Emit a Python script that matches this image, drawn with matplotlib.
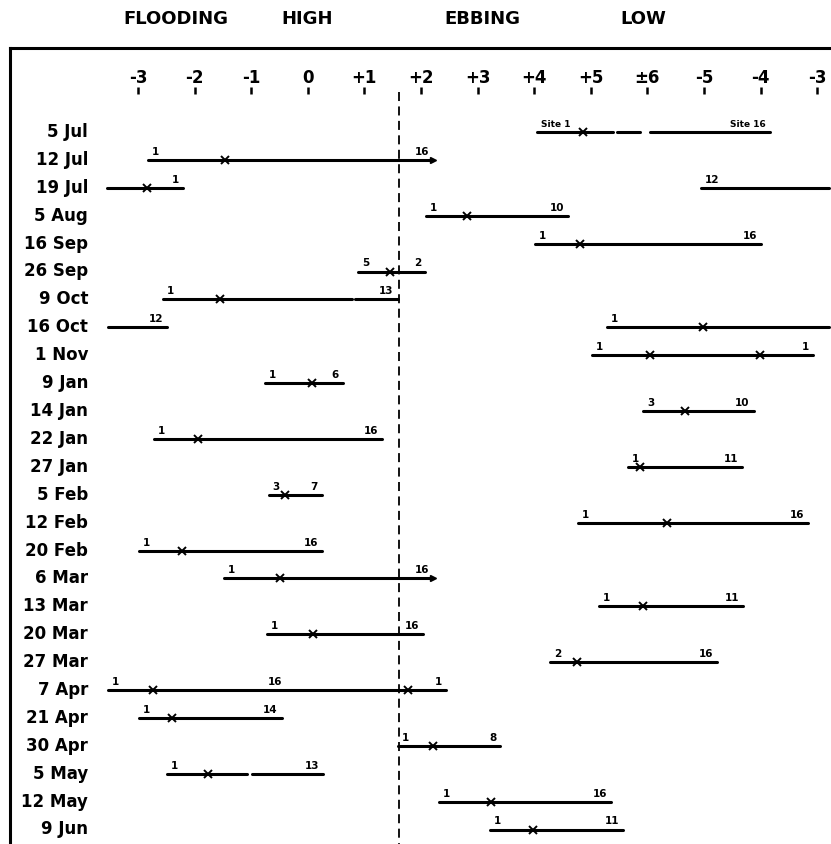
import numpy as np
import matplotlib.pyplot as plt

# rows of the chart (survey dates)
dates = ['5 Jul', '12 Jul', '19 Jul', '5 Aug', '16 Sep', '26 Sep', '9 Oct', '16 Oct',
         '1 Nov', '9 Jan', '14 Jan', '22 Jan', '27 Jan', '5 Feb', '12 Feb', '20 Feb',
         '6 Mar', '13 Mar', '20 Mar', '27 Mar', '7 Apr', '21 Apr', '30 Apr', '5 May',
         '12 May', '9 Jun']

# tide hour scale (0 = "-3" flooding ... 12 = "-3" next cycle)
hour_labels = ['-3', '-2', '-1', '0', '+1', '+2', '+3', '+4', '+5', '\u00b16', '-5', '-4', '-3']
phase_names = ['FLOODING', 'HIGH', 'EBBING', 'LOW']
ref_hour = 4.61  # dashed reference line

# sampling runs: one entry per line segment
seg_date = ['5 Jul', '5 Jul', '5 Jul', '12 Jul', '19 Jul', '19 Jul', '5 Aug', '16 Sep',
            '26 Sep', '9 Oct', '9 Oct', '16 Oct', '16 Oct', '1 Nov', '9 Jan', '14 Jan',
            '22 Jan', '27 Jan', '5 Feb', '12 Feb', '20 Feb', '6 Mar', '13 Mar', '20 Mar',
            '27 Mar', '7 Apr', '21 Apr', '30 Apr', '5 May', '5 May', '12 May', '9 Jun']
seg_start = [7.05, 8.46, 9.05, 0.18, -0.55, 9.95, 5.09, 7.01,
             3.89, 0.44, 3.83, -0.53, 8.29, 8.02, 2.24, 8.92,
             0.28, 8.66, 2.31, 7.77, 0.02, 1.52, 8.14, 2.28,
             7.28, -0.53, 0.02, 4.59, 0.51, 2.01, 5.32, 6.22]
seg_end = [8.39, 8.87, 11.17, 5.21, 0.80, 12.2, 7.60, 11.01,
           5.07, 3.78, 4.59, 0.51, 12.2, 11.93, 3.62, 10.88,
           4.31, 10.67, 3.25, 11.84, 3.25, 5.21, 10.69, 5.04,
           10.23, 5.44, 2.54, 6.40, 1.93, 3.27, 8.36, 8.57]
seg_first = ['Site 1', '', '', '1', '', '12', '1', '1',
             '5', '1', '', '', '1', '1', '1', '3',
             '1', '1', '3', '1', '1', '1', '1', '1',
             '2', '1', '1', '1', '1', '', '1', '1']
seg_last = ['', '', 'Site 16', '16', '1', '', '10', '16',
            '2', '', '13', '12', '', '1', '6', '10',
            '16', '11', '7', '16', '16', '16', '11', '16',
            '16', '1', '14', '8', '', '13', '16', '11']
arrow_dates = ['12 Jul', '6 Mar']

# x marks on the runs
mark_date = ['5 Jul', '12 Jul', '19 Jul', '5 Aug', '16 Sep', '26 Sep', '9 Oct', '16 Oct',
             '1 Nov', '1 Nov', '9 Jan', '14 Jan', '22 Jan', '27 Jan', '5 Feb', '12 Feb',
             '20 Feb', '6 Mar', '13 Mar', '20 Mar', '27 Mar', '7 Apr', '7 Apr', '21 Apr',
             '30 Apr', '5 May', '12 May', '9 Jun']
mark_hour = [7.86, 1.54, 0.16, 5.81, 7.81, 4.45, 1.45, 9.98,
             9.05, 10.99, 3.07, 9.66, 1.06, 8.87, 2.60, 9.35,
             0.78, 2.51, 8.92, 3.09, 7.76, 0.27, 4.77, 0.60,
             5.21, 1.24, 6.24, 6.98]

# labels placed mid-run
mid_date = ['7 Apr']
mid_hour = [2.42]
mid_text = ['16']

W, H = 831, 844
fig = plt.figure(figsize=(W / 100, H / 100), dpi=100)
ax = fig.add_axes([10 / W, 0, 1 - 10 / W, (H - 48) / H])

row = {d: i for i, d in enumerate(dates)}
bold = dict(fontweight='bold', color='black')

# runs
for d, s, e, a, b in zip(seg_date, seg_start, seg_end, seg_first, seg_last):
    y = row[d]
    ax.plot([s, e], [y, y], color='black', lw=2.2, solid_capstyle='round')
    if a:
        ax.annotate(a, (s, y), xytext=(4, 3), textcoords='offset pixels',
                    ha='left', va='bottom', fontsize=7.5 if len(a) < 4 else 6.5, **bold)
    if b:
        ax.annotate(b, (e, y), xytext=(-4, 3), textcoords='offset pixels',
                    ha='right', va='bottom', fontsize=7.5 if len(b) < 4 else 6.5, **bold)
    if d in arrow_dates:
        ax.plot(e, y, marker='>', ms=5, color='black')

for d, h, t in zip(mid_date, mid_hour, mid_text):
    ax.annotate(t, (h, row[d]), xytext=(0, 3), textcoords='offset pixels',
                ha='center', va='bottom', fontsize=7.5, **bold)

ax.plot(mark_hour, [row[d] for d in mark_date], linestyle='none', marker='x',
        ms=6, mew=1.4, color='black')

# hour scale inside the frame
hours = np.arange(len(hour_labels))
for h, lab in zip(hours, hour_labels):
    ax.text(h, -1.95, lab, ha='center', va='center', fontsize=12, **bold)
ax.vlines(hours, -1.6, -1.35, color='black', lw=1.8)

# dashed reference line
ax.plot([ref_hour, ref_hour], [-1.45, 25.6], color='black', lw=1.3,
        linestyle=(0, (5, 3)))

# date labels
for d, i in row.items():
    ax.text(-0.88, i, d, ha='right', va='center', fontsize=12, **bold)

# tide phase header above the frame
for name, px in zip(phase_names, [176, 307, 482, 643]):
    fig.text(px / W, 1 - 19 / H, name, ha='center', va='center', fontsize=13, **bold)

ax.set_xlim((10 - 138) / 56.6, (W - 138) / 56.6)
ax.set_ylim((H - 132) / 27.9, (48 - 132) / 27.9)
ax.set_xticks([])
ax.set_yticks([])
for side in ['right', 'bottom']:
    ax.spines[side].set_visible(False)
for side in ['left', 'top']:
    ax.spines[side].set_linewidth(2.2)

fig.savefig('out.png', dpi=100)
